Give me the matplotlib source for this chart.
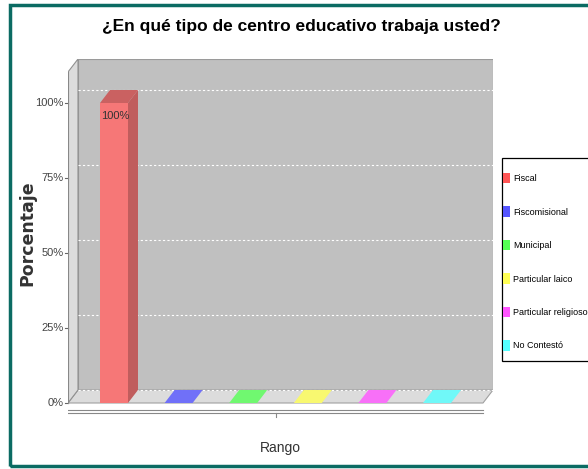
import matplotlib
matplotlib.use("Agg")
import matplotlib.pyplot as plt
from matplotlib.patches import Polygon, Rectangle, Patch

categorias = ['Fiscal', 'Fiscomisional', 'Municipal', 'Particular laico',
              'Particular religioso', 'No Contestó']
porcentajes = [100, 0, 0, 0, 0, 0]
colores = ['#ff5555', '#5555ff', '#55ff55', '#ffff55', '#ff55ff', '#55ffff']
ticks_y = [0, 25, 50, 75, 100]
titulo = '¿En qué tipo de centro educativo trabaja usted?'

fam_n = ['Liberation Sans', 'DejaVu Sans']


def mezcla(c, fondo, a):
    c = matplotlib.colors.to_rgb(c)
    f = matplotlib.colors.to_rgb(fondo)
    return tuple(a * x + (1 - a) * y for x, y in zip(c, f))


def oscuro(c, k):
    return tuple(k * x for x in matplotlib.colors.to_rgb(c))


W, H = 588, 469
fig = plt.figure(figsize=(W / 100, H / 100), dpi=100)

# area en pixeles: frente x 68..483, fondo +10 px, 0% en y=403, 3 px por %
x0, x1, yb, yt = 68, 493, 416, 59
ax = fig.add_axes([x0 / W, 1 - yb / H, (x1 - x0) / W, (yb - yt) / H])
paso = 64.6
xmin = -(114 - 68) / paso
xmax = xmin + (x1 - x0) / paso
ymin = -(yb - 403) / 3
ymax = (403 - yt) / 3
ax.set_xlim(xmin, xmax)
ax.set_ylim(ymin, ymax)
ax.axis('off')

dx = 10 / paso
dy = 13 / 3
xf1 = xmin + 415 / paso  # borde derecho frontal

# pared trasera
ax.add_patch(Rectangle((xmin + dx, dy), xf1 - xmin, ymax - dy,
                       facecolor='#c0c0c0', edgecolor='#9a9a9a', lw=0.8, zorder=1))
# piso
ax.add_patch(Polygon([(xmin, 0), (xf1, 0), (xf1 + dx, dy), (xmin + dx, dy)],
                     facecolor='#dcdcdc', edgecolor='#a0a0a0', lw=0.8, zorder=1))
# pared izquierda
ax.add_patch(Polygon([(xmin, 0), (xmin + dx, dy), (xmin + dx, ymax), (xmin, ymax - dy)],
                     facecolor='#dcdcdc', edgecolor='#909090', lw=0.8, zorder=1))
# lineas de grilla
for t in ticks_y:
    ax.plot([xmin + dx, xf1 + dx], [t + dy, t + dy], color='white', lw=0.8,
            ls=(0, (2, 2)), zorder=2)
    ax.plot([xmin - 0.04, xmin], [t, t], color='#666666', lw=0.8, zorder=2,
            clip_on=False)
    ax.text(xmin - 0.07, t, f'{t}%', ha='right', va='center', fontsize=8,
            color='#444444', family=fam_n)

# barras 3D
ancho = 28 / paso
for i, (v, c) in enumerate(zip(porcentajes, colores)):
    l, r = i - ancho / 2, i + ancho / 2
    frente = mezcla(c, '#dcdcdc', 0.75)
    if v > 0:
        ax.add_patch(Rectangle((l, 0), ancho, v, facecolor=frente, lw=0, zorder=4))
        ax.add_patch(Polygon([(r, 0), (r + dx, dy), (r + dx, v + dy), (r, v)],
                             facecolor=oscuro(frente, 0.78), lw=0, zorder=4))
    ax.add_patch(Polygon([(l, v), (r, v), (r + dx, v + dy), (l + dx, v + dy)],
                         facecolor=oscuro(frente, 0.82) if v > 0 else mezcla(c, '#dcdcdc', 0.8),
                         lw=0, zorder=4))
    if v > 0:
        ax.text(l + 0.01, v - 2.5, f'{v}%', ha='left', va='top', fontsize=8,
                color='#333333', family=fam_n, zorder=5)

# eje de categorias (linea doble) y eje vertical
for yy in (-2.2, -3.2):
    ax.plot([xmin, xf1], [yy, yy], color='#888888', lw=0.8, zorder=3)
ax.plot([(xmin + xf1) / 2] * 2, [-3.2, -4.5], color='#888888', lw=0.8, clip_on=False)
ax.plot([xmin, xmin], [0, ymax - dy], color='#888888', lw=0.8, zorder=3)

fig.text(301 / W, 1 - 26 / H, titulo, ha='center', va='center', fontsize=12.5,
         fontweight='bold', family=fam_n)
fig.text(27 / W, 1 - 233 / H, 'Porcentaje', rotation=90, ha='center', va='center',
         fontsize=12.5, fontweight='bold', color='#333333', family='DejaVu Sans')
fig.text(280 / W, 1 - 448 / H, 'Rango', ha='center', va='center', fontsize=10,
         color='#333333', family=fam_n)

# leyenda: marco dibujado aparte, entradas sin marco
fig.add_artist(Rectangle((502 / W, 1 - 361 / H), 100 / W, 203 / H,
                         transform=fig.transFigure, facecolor='white',
                         edgecolor='black', lw=0.9))
manejadores = [Patch(facecolor=c, edgecolor='none') for c in colores]
leg = fig.legend(manejadores, categorias, loc='upper left',
                 bbox_to_anchor=(503 / W, 1 - 173 / H), frameon=False,
                 handlelength=0.75, handleheight=1.4, handletextpad=0.35,
                 labelspacing=2.55, borderpad=0, borderaxespad=0,
                 prop={'family': fam_n, 'size': 6.5})

# marco verde azulado
fig.add_artist(Rectangle((10 / W, 3 / H), 1.0, 1 - 8 / H, transform=fig.transFigure,
                         facecolor='none', edgecolor='#0b6b63', lw=2.5))

fig.savefig('out.png', dpi=100)
